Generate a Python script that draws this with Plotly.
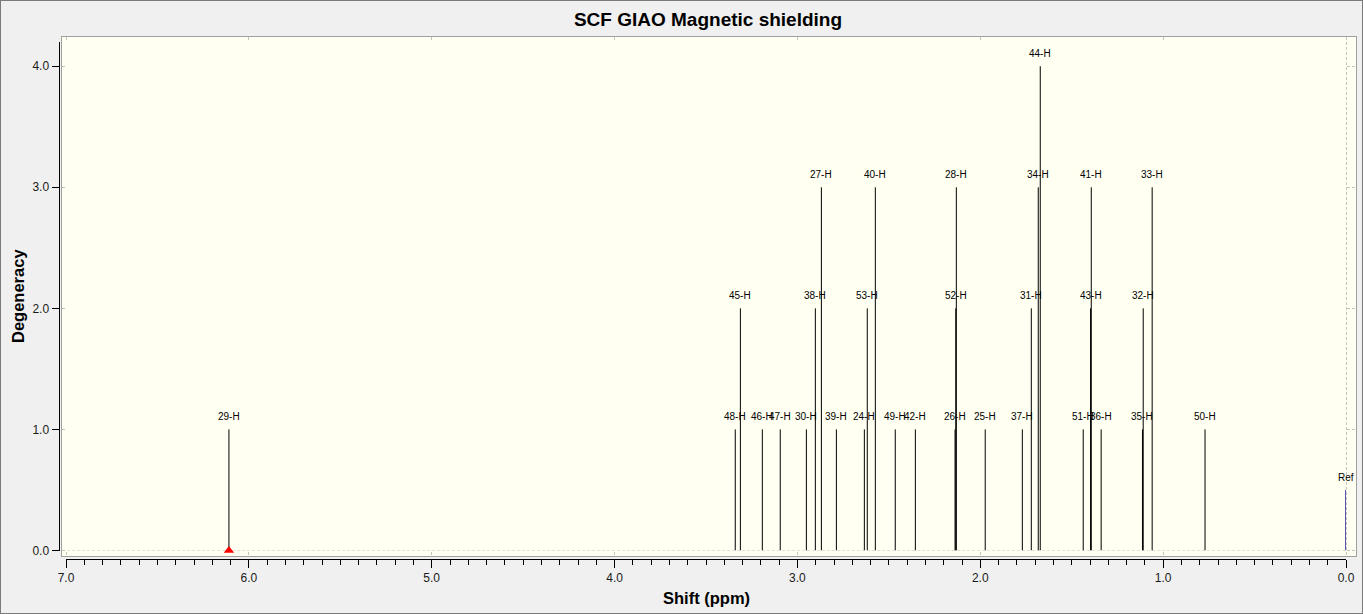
import plotly.graph_objects as go

# peak data
labels = ["29-H", "48-H", "45-H", "46-H", "47-H", "30-H", "38-H", "27-H", "39-H", "24-H",
          "53-H", "40-H", "49-H", "42-H", "26-H", "52-H", "28-H", "25-H", "37-H", "31-H",
          "34-H", "44-H", "51-H", "43-H", "41-H", "36-H", "35-H", "32-H", "33-H", "50-H"]
shifts = [6.109, 3.340, 3.312, 3.192, 3.094, 2.951, 2.902, 2.869, 2.787, 2.634,
          2.618, 2.574, 2.465, 2.355, 2.138, 2.134, 2.131, 1.973, 1.770, 1.721,
          1.683, 1.672, 1.437, 1.397, 1.393, 1.339, 1.113, 1.109, 1.060, 0.771]
degeneracy = [1, 1, 2, 1, 1, 1, 2, 3, 1, 1,
              2, 3, 1, 1, 1, 2, 3, 1, 1, 2,
              3, 4, 1, 2, 3, 1, 1, 2, 3, 1]
ref_label = "Ref"
ref_shift = 0.0
ref_height = 0.5
selected = "29-H"

x_ticks = [0, 1, 2, 3, 4, 5, 6, 7]
y_ticks = [0, 1, 2, 3, 4]

# page geometry (pixels)
W, H = 1363, 614
X7_PX, X0_PX = 66, 1346        # where 7.0 and 0.0 sit
Y0_PX, YTOP_PX = 550.5, 42     # where 0.0 and 4.2 sit
BOX_L, BOX_R, BOX_T, BOX_B = 62, 1356, 37, 556
XAXIS_PX = 559
YAXIS_PX = 58.5

FONT = "Liberation Sans, Arial"


def fx(px):
    return px / W


def fy(py):
    return 1 - py / H


ppm_per_px = 7.0 / (X0_PX - X7_PX)
deg_per_px = 4.2 / (Y0_PX - YTOP_PX)

# stick segments
sx, sy = [], []
for s, d in zip(shifts, degeneracy):
    sx += [s, s, None]
    sy += [0, d, None]

fig = go.Figure()

# invisible trace so the background grid subplot exists
fig.add_trace(go.Scatter(x=[], y=[], xaxis="x", yaxis="y", showlegend=False, hoverinfo="skip"))

fig.add_trace(go.Scatter(x=sx, y=sy, mode="lines", xaxis="x2", yaxis="y2",
                         line=dict(color="black", width=1), showlegend=False, hoverinfo="skip"))
fig.add_trace(go.Scatter(x=[ref_shift, ref_shift], y=[0, ref_height], mode="lines",
                         xaxis="x2", yaxis="y2", line=dict(color="#1c1c9c", width=1.5),
                         showlegend=False, hoverinfo="skip"))
sel = labels.index(selected)
fig.add_trace(go.Scatter(x=[shifts[sel]], y=[0], mode="markers", xaxis="x2", yaxis="y2",
                         marker=dict(symbol="triangle-up", size=9, color="red"),
                         cliponaxis=False, showlegend=False, hoverinfo="skip"))

annotations = []
for lab, s, d in zip(labels + [ref_label], shifts + [ref_shift], degeneracy + [ref_height]):
    annotations.append(dict(x=s, y=d, xref="x2", yref="y2", text=lab, showarrow=False,
                            yanchor="middle", yshift=12.5,
                            font=dict(family=FONT, size=10, color="black")))

annotations.append(dict(x=fx(707), y=fy(598), xref="paper", yref="paper", text="<b>Shift (ppm)</b>",
                        showarrow=False, xanchor="center", yanchor="middle",
                        font=dict(family=FONT, size=16.5, color="black")))
annotations.append(dict(x=fx(18), y=fy(296), xref="paper", yref="paper", text="<b>Degeneracy</b>",
                        showarrow=False, textangle=-90, xanchor="center", yanchor="middle",
                        font=dict(family=FONT, size=16.5, color="black")))

grid = dict(showgrid=True, gridcolor="#c4c4c4", griddash="3px,2px", gridwidth=1,
            zeroline=False, showticklabels=False, ticks="", tickmode="array",
            showline=True, mirror=True, linecolor="#a0a0a0", linewidth=1,
            fixedrange=True, automargin=False)

fig.update_layout(
    template="none",
    width=W, height=H, autosize=False,
    margin=dict(l=0, r=0, t=0, b=0, pad=0),
    paper_bgcolor="#f0f0f0",
    plot_bgcolor="#fffff2",
    showlegend=False,
    font=dict(family=FONT),
    title=dict(text="<b>SCF GIAO Magnetic shielding</b>", x=fx(708), xanchor="center",
               y=fy(19), yanchor="middle", automargin=False,
               font=dict(family=FONT, size=19, color="black")),
    # background box with the dashed grid
    xaxis=dict(domain=[fx(BOX_L), fx(BOX_R)],
               range=[7 + (X7_PX - BOX_L) * ppm_per_px, 0 - (BOX_R - X0_PX) * ppm_per_px],
               tickvals=x_ticks, anchor="y", **grid),
    yaxis=dict(domain=[fy(BOX_B), fy(BOX_T)],
               range=[-(BOX_B - Y0_PX) * deg_per_px, 4.2 + (YTOP_PX - BOX_T) * deg_per_px],
               tickvals=y_ticks, anchor="x", **grid),
    # data axes
    xaxis2=dict(domain=[fx(X7_PX), fx(X0_PX)], range=[7, 0], anchor="free", position=fy(XAXIS_PX),
                showgrid=False, zeroline=False, showline=True, linecolor="black", linewidth=1,
                tickmode="array", tickvals=x_ticks, tickformat=".1f",
                ticks="outside", ticklen=8, tickwidth=1, tickcolor="black",
                minor=dict(dtick=0.1, ticks="outside", ticklen=5, tickcolor="black", showgrid=False),
                tickfont=dict(family=FONT, size=12, color="#1a1a1a"),
                fixedrange=True, automargin=False),
    yaxis2=dict(domain=[fy(Y0_PX), fy(YTOP_PX)], range=[0, 4.2], anchor="free", position=fx(YAXIS_PX),
                showgrid=False, zeroline=False, showline=True, linecolor="black", linewidth=1,
                tickmode="array", tickvals=y_ticks, tickformat=".1f",
                ticks="outside", ticklen=7, tickwidth=1, tickcolor="black",
                tickfont=dict(family=FONT, size=12, color="#1a1a1a"),
                fixedrange=True, automargin=False),
    annotations=annotations,
    shapes=[dict(type="rect", xref="paper", yref="paper", x0=0, x1=1, y0=0, y1=1,
                 line=dict(color="#7a7a7a", width=2))],
)

fig.write_html("out.html", config={"displayModeBar": False},
               post_script="document.body.style.margin='0';")
